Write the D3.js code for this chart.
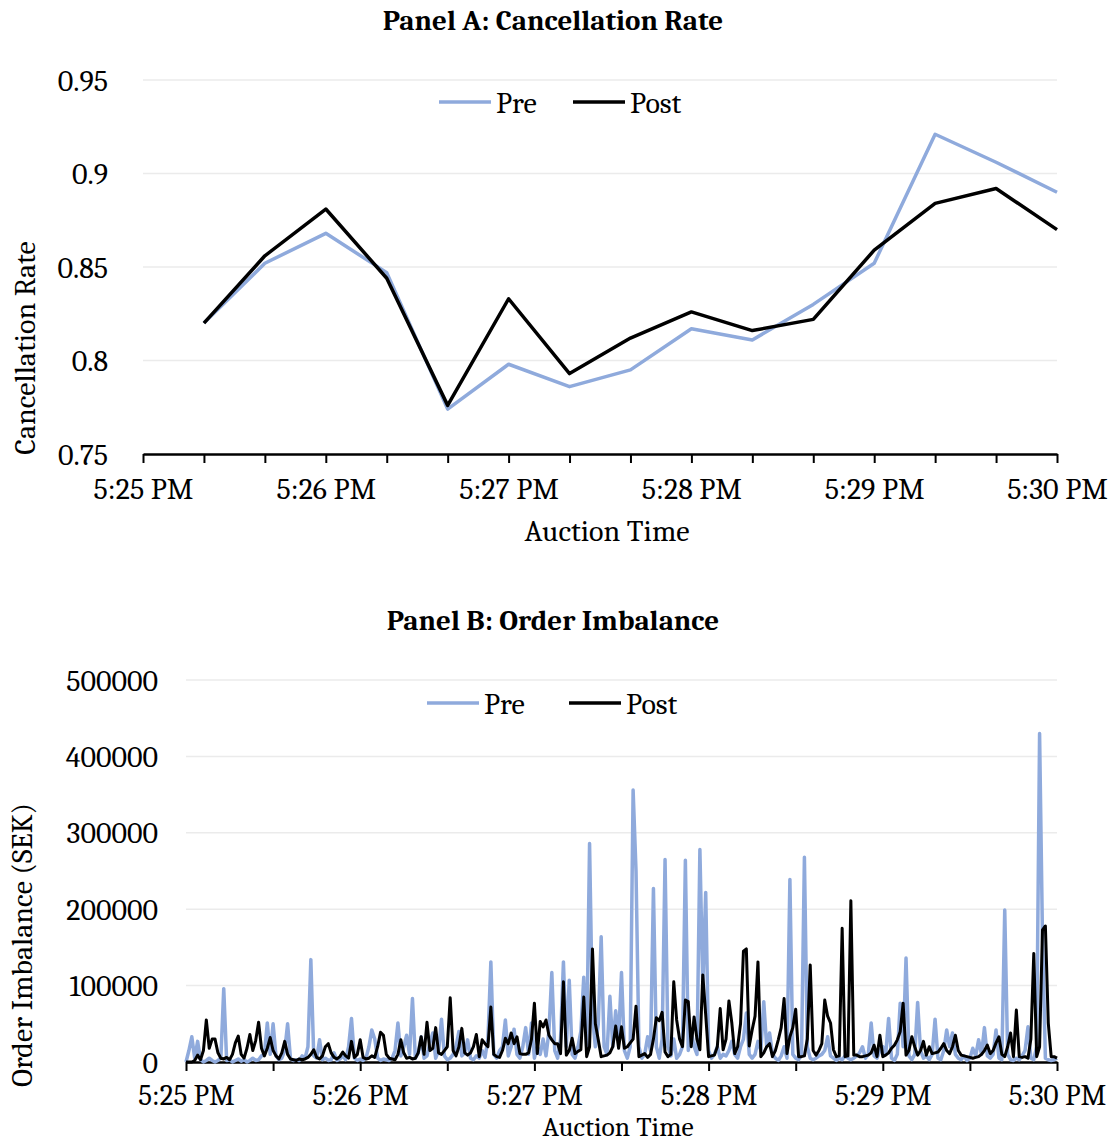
<!DOCTYPE html>
<html lang="en">
<head>
  <meta charset="utf-8">
  <title>Cancellation Rate and Order Imbalance</title>
  <script src="https://d3js.org/d3.v7.min.js"></script>
  <style>
    body { margin: 0; background: #fff; }
    text { font-family: Cambria, "Liberation Serif", "DejaVu Serif", serif; fill: #000; }
  </style>
</head>
<body>
<div id="chart"></div>
<script>
  // x axis labels (one per minute)
  var timeLabels = ["5:25 PM", "5:26 PM", "5:27 PM", "5:28 PM", "5:29 PM", "5:30 PM"];

  // Panel A: cancellation rate, one value every 20 seconds (t = 20 ... 300)
  var rateSeconds = [20, 40, 60, 80, 100, 120, 140, 160, 180, 200, 220, 240, 260, 280, 300];
  var ratePre  = [0.820, 0.852, 0.868, 0.847, 0.774, 0.798, 0.786, 0.795, 0.817, 0.811, 0.830, 0.852, 0.921, 0.906, 0.890];
  var ratePost = [0.820, 0.856, 0.881, 0.844, 0.776, 0.833, 0.793, 0.812, 0.826, 0.816, 0.822, 0.859, 0.884, 0.892, 0.870];
  var rateTicks = [0.75, 0.8, 0.85, 0.9, 0.95];

  // Panel B: order imbalance (SEK), one value every second (t = 0 ... 300)
  var imbPre = [
    0, 15000, 33000, 5000, 27000, 3000, 0, 2000, 5000, 2000,
    0, 2000, 5000, 96000, 2000, 3000, 0, 2000, 4000, 1000,
    3000, 0, 2000, 5000, 2000, 3000, 8000, 10000, 51000, 10000,
    50000, 8000, 3000, 5000, 15000, 50000, 4000, 2000, 3000, 2000,
    8000, 5000, 20000, 134000, 8000, 5000, 29000, 3000, 5000, 2000,
    3000, 12000, 2000, 4000, 8000, 3000, 20000, 57000, 5000, 2000,
    4000, 2000, 5000, 20000, 42000, 30000, 5000, 2000, 4000, 3000,
    2000, 5000, 15000, 51000, 8000, 20000, 35000, 10000, 83000, 5000,
    12000, 33000, 5000, 8000, 25000, 38000, 5000, 15000, 56000, 8000,
    3000, 5000, 10000, 20000, 40000, 8000, 12000, 29000, 5000, 3000,
    8000, 5000, 15000, 6000, 30000, 131000, 10000, 5000, 15000, 20000,
    55000, 8000, 20000, 43000, 10000, 5000, 20000, 45000, 10000, 51000,
    5000, 20000, 10000, 30000, 8000, 40000, 117000, 15000, 5000, 30000,
    131000, 20000, 107000, 10000, 5000, 20000, 40000, 111000, 20000, 286000,
    60000, 20000, 50000, 164000, 20000, 10000, 86000, 20000, 67000, 30000,
    117000, 15000, 5000, 20000, 356000, 250000, 20000, 5000, 10000, 33000,
    15000, 227000, 20000, 5000, 30000, 265000, 20000, 8000, 30000, 5000,
    10000, 20000, 264000, 15000, 40000, 20000, 10000, 278000, 100000, 222000,
    15000, 5000, 10000, 20000, 5000, 10000, 8000, 15000, 27000, 10000,
    5000, 20000, 30000, 64000, 10000, 5000, 10000, 27000, 15000, 79000,
    20000, 38000, 10000, 5000, 2000, 8000, 20000, 5000, 239000, 10000,
    5000, 3000, 10000, 268000, 20000, 5000, 3000, 5000, 8000, 10000,
    15000, 33000, 8000, 5000, 2000, 5000, 3000, 8000, 5000, 3000,
    5000, 8000, 12000, 20000, 5000, 10000, 51000, 8000, 5000, 15000,
    20000, 10000, 57000, 5000, 2000, 10000, 77000, 20000, 136000, 8000,
    3000, 10000, 78000, 15000, 5000, 8000, 3000, 10000, 56000, 5000,
    3000, 15000, 42000, 20000, 38000, 10000, 5000, 3000, 8000, 2000,
    5000, 18000, 8000, 29000, 10000, 45000, 8000, 5000, 10000, 42000,
    5000, 3000, 199000, 10000, 3000, 2000, 5000, 3000, 8000, 15000,
    46000, 5000, 3000, 20000, 430000, 164000, 5000, 3000, 2000, 3000,
    5000
  ];
  var imbPost = [
    0, 0, 0, 2000, 9000, 3000, 15000, 55000, 18000, 30000,
    30000, 12000, 5000, 4000, 6000, 3000, 10000, 25000, 34000, 10000,
    5000, 18000, 36000, 15000, 28000, 52000, 18000, 8000, 18000, 32000,
    15000, 8000, 4000, 12000, 27000, 10000, 4000, 3000, 2000, 4000,
    3000, 4000, 6000, 10000, 16000, 6000, 4000, 8000, 20000, 24000,
    12000, 6000, 4000, 7000, 13000, 8000, 5000, 27000, 6000, 10000,
    29000, 6000, 4000, 5000, 8000, 6000, 20000, 39000, 35000, 10000,
    5000, 4000, 3000, 10000, 29000, 12000, 5000, 6000, 4000, 5000,
    12000, 33000, 10000, 52000, 15000, 18000, 45000, 12000, 10000, 15000,
    20000, 84000, 15000, 8000, 20000, 44000, 12000, 9000, 12000, 20000,
    36000, 7000, 29000, 24000, 20000, 72000, 10000, 7000, 6000, 15000,
    31000, 24000, 38000, 24000, 33000, 11000, 10000, 10000, 12000, 30000,
    77000, 11000, 53000, 46000, 55000, 35000, 29000, 24000, 24000, 11000,
    105000, 9000, 15000, 31000, 11000, 14000, 16000, 85000, 7000, 20000,
    148000, 50000, 29000, 7000, 8000, 9000, 12000, 20000, 47000, 18000,
    46000, 18000, 20000, 25000, 30000, 73000, 7000, 9000, 11000, 6000,
    10000, 30000, 58000, 54000, 65000, 13000, 7000, 10000, 105000, 55000,
    30000, 20000, 81000, 79000, 20000, 59000, 30000, 16000, 114000, 62000,
    7000, 8000, 9000, 20000, 70000, 16000, 30000, 80000, 51000, 11000,
    20000, 50000, 145000, 148000, 21000, 42000, 60000, 131000, 7000, 12000,
    20000, 24000, 7000, 15000, 29000, 45000, 83000, 11000, 33000, 45000,
    69000, 7000, 7000, 8000, 30000, 127000, 15000, 9000, 15000, 24000,
    81000, 60000, 51000, 16000, 7000, 8000, 175000, 7000, 8000, 211000,
    9000, 9000, 7000, 7000, 8000, 9000, 12000, 22000, 7000, 35000,
    7000, 9000, 12000, 18000, 22000, 29000, 40000, 77000, 9000, 15000,
    33000, 20000, 9000, 15000, 27000, 9000, 20000, 11000, 12000, 13000,
    18000, 24000, 15000, 11000, 20000, 35000, 15000, 9000, 8000, 7000,
    6000, 5000, 6000, 7000, 10000, 15000, 22000, 11000, 15000, 25000,
    33000, 10000, 7000, 20000, 38000, 7000, 68000, 7000, 6000, 7000,
    5000, 30000, 142000, 7000, 20000, 173000, 178000, 51000, 7000, 7000,
    5000
  ];
  var imbTicks = [0, 100000, 200000, 300000, 400000, 500000];

  var preColor = "#8FAADC", postColor = "#000000";
  var fontStack = 'Cambria, "Liberation Serif", "DejaVu Serif", serif';

  var svg = d3.select("#chart").append("svg")
    .attr("width", 1115)
    .attr("height", 1142);

  function drawPanel(opt) {
    var x = d3.scaleLinear().domain([0, 300]).range([opt.left, opt.right]);
    var y = d3.scaleLinear().domain(opt.yDomain).range([opt.bottom, opt.top]);
    var g = svg.append("g");

    // title
    g.append("text")
      .attr("x", 553).attr("y", opt.titleY)
      .attr("text-anchor", "middle")
      .style("font-size", "29px").style("font-weight", "bold")
      .text(opt.title);

    // gridlines
    g.append("g").selectAll("line")
      .data(opt.yTicks.slice(1))
      .enter().append("line")
      .attr("x1", opt.left).attr("x2", opt.right)
      .attr("y1", function (d) { return y(d); })
      .attr("y2", function (d) { return y(d); })
      .attr("stroke", "#ebebeb").attr("stroke-width", 1.5);

    // y tick labels
    g.append("g").selectAll("text")
      .data(opt.yTicks)
      .enter().append("text")
      .attr("x", opt.left - opt.yLabelGap)
      .attr("y", function (d) { return y(d); })
      .attr("dy", "0.35em")
      .attr("text-anchor", "end")
      .style("font-size", "30px")
      .text(opt.yFormat);

    // x axis
    var xAxis = d3.axisBottom(x)
      .tickValues(d3.range(0, 301, opt.tickStep))
      .tickSize(9)
      .tickSizeOuter(0)
      .tickPadding(opt.tickPad)
      .tickFormat(function (d) { return d % 60 === 0 ? timeLabels[d / 60] : ""; });
    var ax = g.append("g")
      .attr("transform", "translate(0," + opt.bottom + ")")
      .call(xAxis);
    ax.select(".domain").attr("stroke", "#000").attr("stroke-width", 2.5);
    ax.selectAll(".tick line").attr("stroke", "#000").attr("stroke-width", 2);
    ax.selectAll(".tick text")
      .style("font-family", fontStack)
      .style("font-size", opt.tickSize).attr("fill", "#000");

    // axis titles
    g.append("text")
      .attr("x", opt.xTitleX).attr("y", opt.xTitleY)
      .attr("text-anchor", "middle")
      .style("font-size", opt.xTitleSize)
      .text("Auction Time");
    g.append("text")
      .attr("transform", "translate(" + opt.yTitleX + "," + opt.yTitleY + ") rotate(-90)")
      .attr("text-anchor", "middle")
      .style("font-size", "30px")
      .text(opt.yTitle);

    // lines
    var line = d3.line()
      .x(function (d) { return x(d[0]); })
      .y(function (d) { return y(d[1]); });
    [[opt.pre, preColor, opt.preWidth], [opt.post, postColor, opt.postWidth]].forEach(function (s) {
      var pts = s[0].map(function (v, i) { return [opt.seconds[i], v]; });
      g.append("path")
        .datum(pts)
        .attr("fill", "none")
        .attr("stroke", s[1])
        .attr("stroke-width", s[2])
        .attr("stroke-linejoin", "round")
        .attr("d", line);
    });

    // legend
    var lg = g.append("g");
    [["Pre", preColor, opt.legPreX], ["Post", postColor, opt.legPostX]].forEach(function (l) {
      lg.append("line")
        .attr("x1", l[2]).attr("x2", l[2] + opt.legLen)
        .attr("y1", opt.legY).attr("y2", opt.legY)
        .attr("stroke", l[1]).attr("stroke-width", 3.5);
      lg.append("text")
        .attr("x", l[2] + opt.legLen + 5).attr("y", opt.legY)
        .attr("dy", "0.35em")
        .style("font-size", "30px")
        .text(l[0]);
    });
  }

  drawPanel({
    title: "Panel A: Cancellation Rate", titleY: 30,
    left: 143, right: 1057, top: 80, bottom: 454,
    yDomain: [0.75, 0.95], yTicks: rateTicks, yLabelGap: 35,
    yFormat: function (d) { return String(+d.toFixed(2)); },
    tickStep: 20, tickPad: 15, tickSize: "30px",
    xTitleX: 607, xTitleY: 541, xTitleSize: "30px",
    yTitle: "Cancellation Rate", yTitleX: 35, yTitleY: 348,
    seconds: rateSeconds, pre: ratePre, post: ratePost, preWidth: 3.5, postWidth: 3.5,
    legPreX: 439, legPostX: 573, legLen: 52, legY: 102
  });

  drawPanel({
    title: "Panel B: Order Imbalance", titleY: 630,
    left: 186, right: 1057, top: 680, bottom: 1062,
    yDomain: [0, 500000], yTicks: imbTicks, yLabelGap: 28,
    yFormat: function (d) { return String(d); },
    tickStep: 30, tickPad: 13.5, tickSize: "29px",
    xTitleX: 618, xTitleY: 1136, xTitleSize: "27.5px",
    yTitle: "Order Imbalance (SEK)", yTitleX: 32, yTitleY: 945,
    seconds: d3.range(0, 301), pre: imbPre, post: imbPost, preWidth: 3.5, postWidth: 3,
    legPreX: 427, legPostX: 569, legLen: 52, legY: 703
  });
</script>
</body>
</html>
